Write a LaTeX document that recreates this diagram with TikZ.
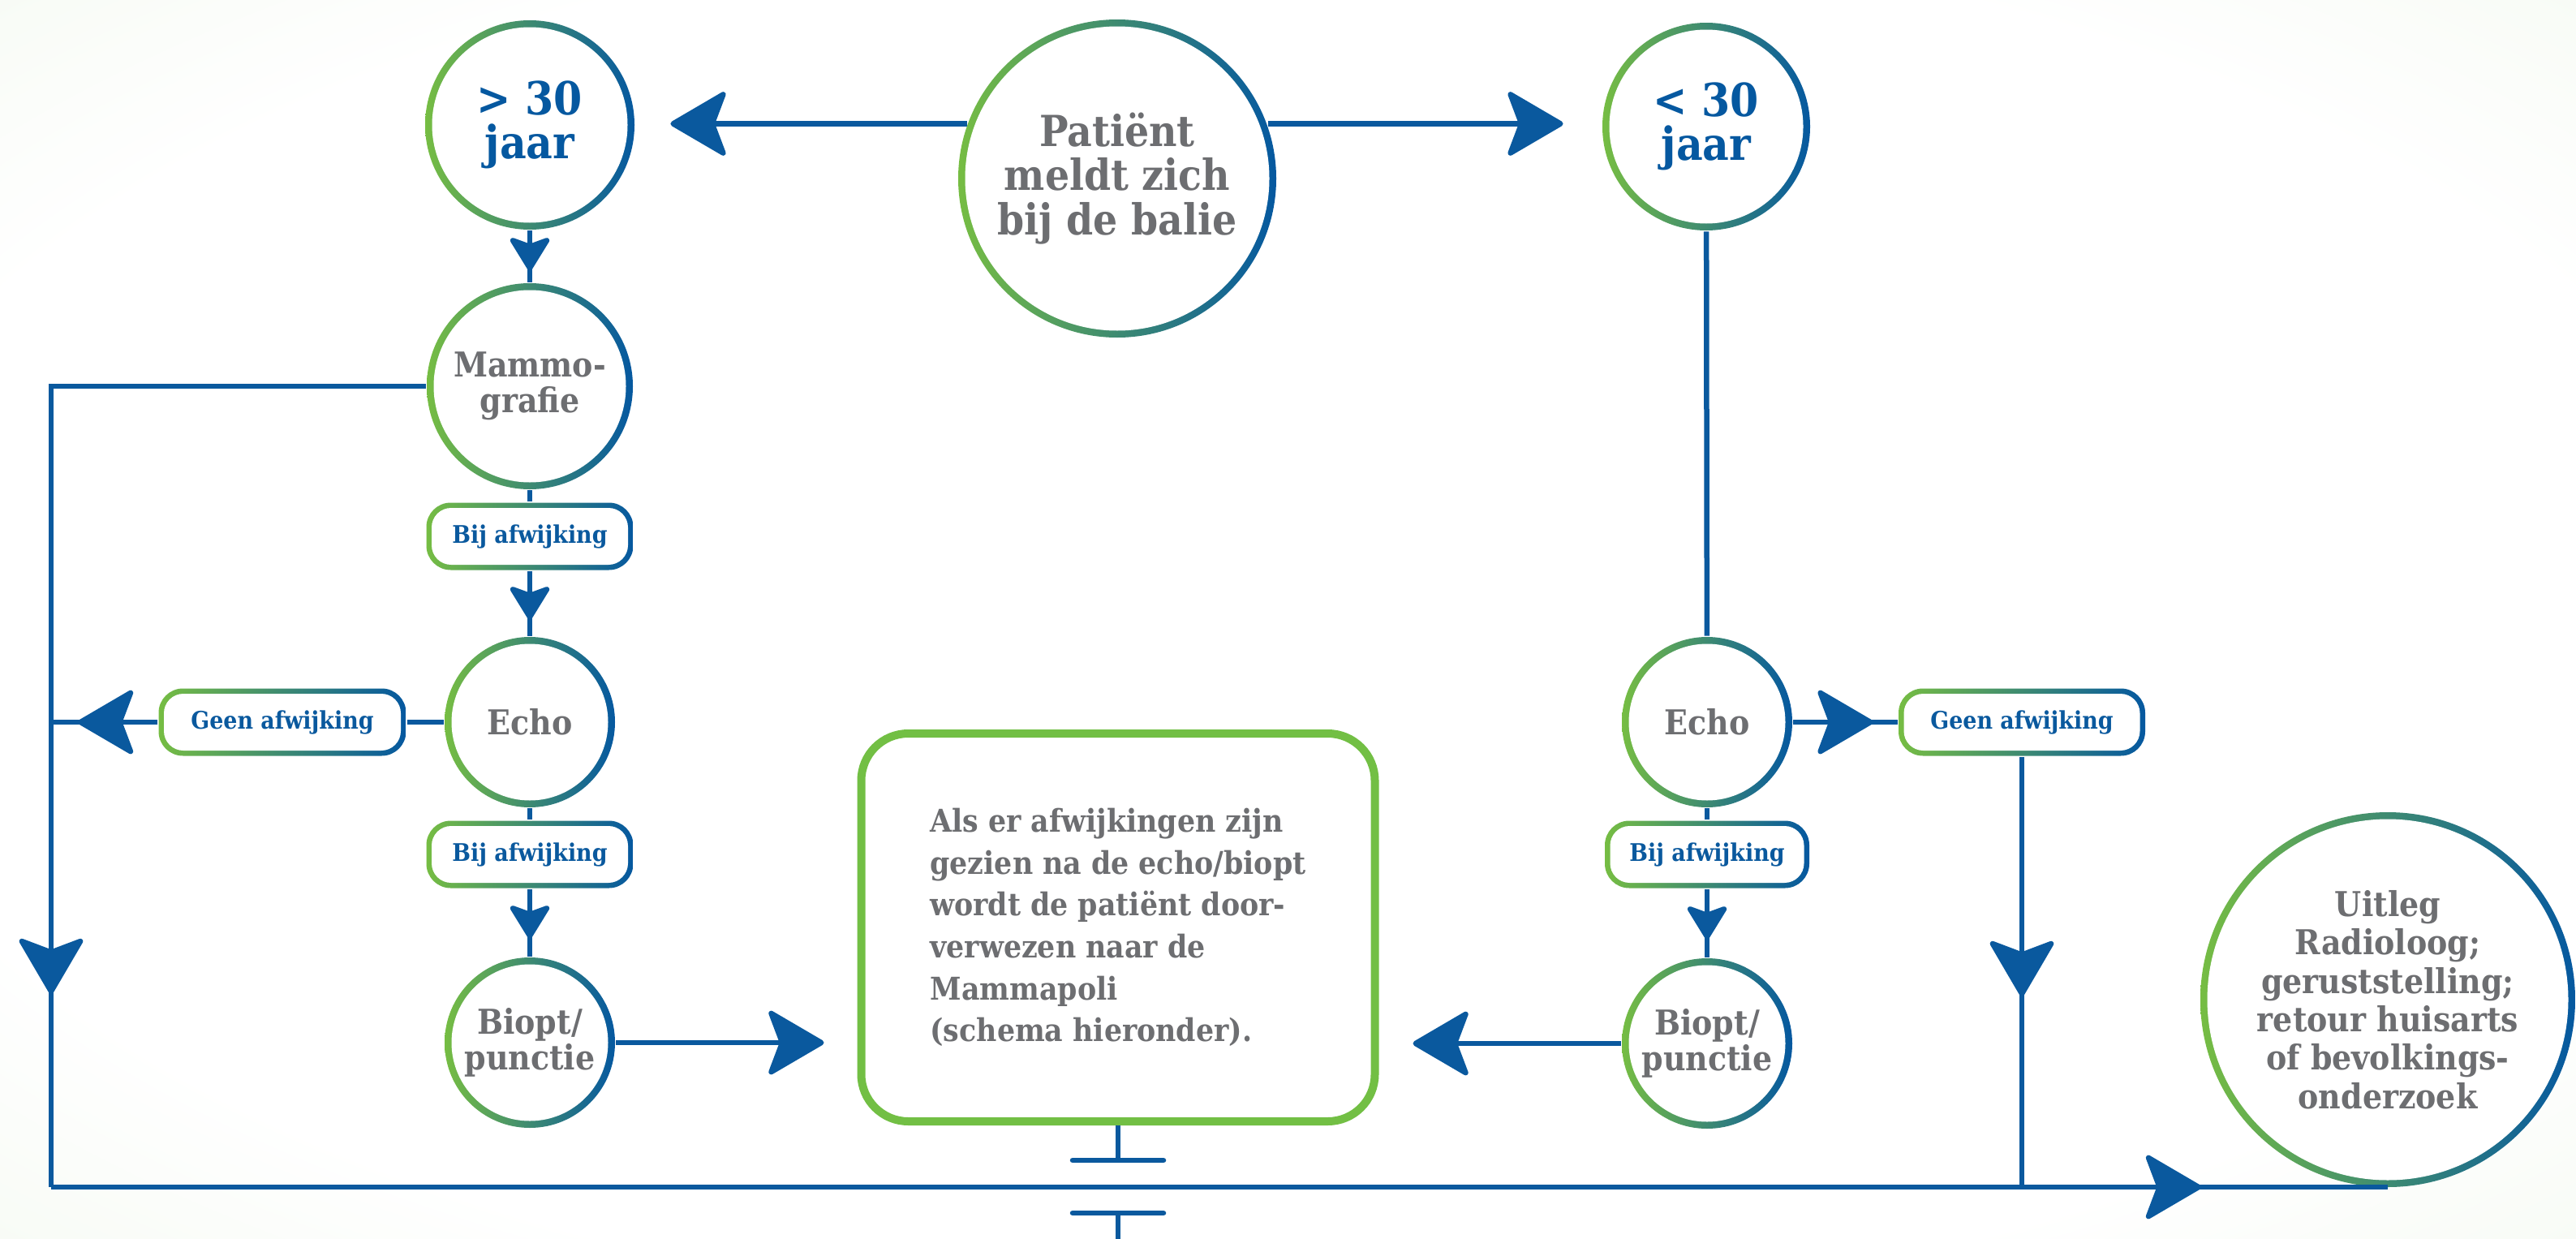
\documentclass[tikz,border=0pt]{standalone}
\usepackage{fontspec}
\setmainfont{DejaVu Serif Condensed}
\usetikzlibrary{arrows.meta,decorations.markings}

\definecolor{lijnblauw}{RGB}{10,89,158}
\definecolor{ringgroen}{RGB}{118,189,67}
\definecolor{ringblauw}{RGB}{5,88,160}
\definecolor{kadergroen}{RGB}{114,191,68}
\definecolor{tekstgrijs}{RGB}{109,110,113}
\definecolor{achtergroen}{RGB}{234,244,228}
\pgfdeclareradialshading{achtergrond}{\pgfpoint{0bp}{0bp}}{color(0bp)=(white); color(28bp)=(white); color(50bp)=(achtergroen); color(70bp)=(achtergroen)}

\tikzset{
    groot/.tip={Stealth[length=0.74cm, width=0.86cm, inset=0.16cm, round]},
    klein/.tip={Stealth[length=0.46cm, width=0.56cm, inset=0.1cm, round]},
}

\begin{document}
\begin{tikzpicture}[thick,
        lijn/.style={draw=lijnblauw, line width=0.065cm},
        cirkel/.style={circle, minimum size=#1, inner sep=0pt, align=center,
            left color=ringgroen, right color=ringblauw, text=tekstgrijs,
            path picture={\fill[white] (path picture bounding box.center) circle[radius={#1/2-0.085cm}];}},
        uitslag/.style={rectangle, rounded corners=0.3cm, minimum width=#1, minimum height=0.83cm, inner sep=0pt,
            left color=ringgroen, right color=ringblauw, text=lijnblauw,
            font=\bfseries\fontsize{8.5}{9}\selectfont,
            path picture={\fill[white, rounded corners=0.24cm] ([shift={(0.065cm,0.065cm)}]path picture bounding box.south west) rectangle ([shift={(-0.065cm,-0.065cm)}]path picture bounding box.north east);}},
        leeftijd/.style={text=ringblauw, font=\bfseries\fontsize{16}{15.4}\selectfont},
        pijlmidden/.style 2 args={postaction={decorate, decoration={markings, mark=at position #2 with {\arrow[lijnblauw]{#1}}}}},
    ]
        \shade[shading=achtergrond] (0,0) rectangle (31.75,-15.27);
        \useasboundingbox (0,0) rectangle (31.75,-15.27);

        \node[cirkel=3.92cm, font=\bfseries\fontsize{15}{15.4}\selectfont] (patient) at (13.77,-2.20) {Patiënt\\meldt zich\\bij de balie};
        \node[cirkel=2.58cm, leeftijd] (boven) at (6.53,-1.54) {> 30\\jaar};
        \node[cirkel=2.56cm, leeftijd] (onder) at (21.03,-1.56) {< 30\\jaar};

        \node[cirkel=2.54cm, font=\bfseries\fontsize{12}{12.5}\selectfont] (mammo) at (6.53,-4.76) {Mammo-\\grafie};
        \node[uitslag=2.55cm] (bij1) at (6.53,-6.61) {Bij afwijking};
        \node[cirkel=2.10cm, font=\bfseries\fontsize{12}{12.5}\selectfont] (echoL) at (6.53,-8.90) {Echo};
        \node[uitslag=3.05cm] (geenL) at (3.48,-8.90) {Geen afwijking};
        \node[uitslag=2.55cm] (bij2) at (6.53,-10.53) {Bij afwijking};
        \node[cirkel=2.10cm, font=\bfseries\fontsize{12}{12.5}\selectfont] (biopL) at (6.53,-12.85) {Biopt/\\punctie};

        \node[cirkel=2.10cm, font=\bfseries\fontsize{12}{12.5}\selectfont] (echoR) at (21.04,-8.90) {Echo};
        \node[uitslag=3.04cm] (geenR) at (24.92,-8.90) {Geen afwijking};
        \node[uitslag=2.52cm] (bij3) at (21.04,-10.53) {Bij afwijking};
        \node[cirkel=2.10cm, font=\bfseries\fontsize{12}{12.5}\selectfont] (biopR) at (21.04,-12.86) {Biopt/\\punctie};

        \node[draw=kadergroen, line width=0.1cm, rounded corners=0.58cm, fill=white, minimum width=6.33cm, minimum height=4.78cm,
            align=left, text=tekstgrijs, font=\bfseries\fontsize{11}{14.7}\selectfont] (mpoli) at (13.78,-11.43)
            {Als er afwijkingen zijn\\gezien na de echo/biopt\\wordt de patiënt door-\\verwezen naar de\\Mammapoli\\(schema hieronder).};

        \node[cirkel=4.62cm, font=\bfseries\fontsize{12}{13.5}\selectfont] (uitleg) at (29.43,-12.32)
            {Uitleg\\Radioloog;\\geruststelling;\\retour huisarts\\of bevolkings-\\onderzoek};

        \coordinate (lb) at (0.63,-14.63);

        \draw[lijn, -groot, shorten >=0.43cm] (patient.160) -- (patient.160 -| boven.east);
        \draw[lijn, -groot, shorten >=0.47cm] (patient.20) -- (patient.20 -| onder.west);

        \draw[lijn, pijlmidden={klein}{-0.14cm}] (boven) -- (mammo);
        \draw[lijn] (mammo) -- (bij1);
        \draw[lijn, pijlmidden={klein}{-0.2cm}] (bij1) -- (echoL);
        \draw[lijn] (echoL) -- (bij2);
        \draw[lijn, pijlmidden={klein}{-0.22cm}] (bij2) -- (biopL);
        \draw[lijn] (echoL) -- (geenL);
        \draw[lijn, pijlmidden={groot}{-0.33cm}] (geenL) -- (geenL -| lb);
        \draw[lijn, pijlmidden={groot}{-2.38cm}] (mammo.west) -| (lb);
        \draw[lijn, -groot, shorten >=0.41cm] (biopL) -- (biopL -| mpoli.west);

        \draw[lijn] (onder) -- (echoR);
        \draw[lijn, pijlmidden={groot}{-0.3cm}] (echoR) -- (geenR);
        \draw[lijn] (echoR) -- (bij3);
        \draw[lijn, pijlmidden={klein}{-0.22cm}] (bij3) -- (biopR);
        \draw[lijn, -groot, shorten >=0.42cm] (biopR) -- (biopR -| mpoli.east);
        \draw[lijn, pijlmidden={groot}{-2.35cm}] (geenR) -- (geenR |- lb);

        \draw[lijn, pijlmidden={groot}{-2.3cm}] (lb) -- (lb -| uitleg.south);

        \draw[lijn] (mpoli.south) -- ++(0,-0.43) coordinate (stopA);
        \draw[lijn, line cap=round] ([xshift=-0.56cm]stopA) -- ([xshift=0.56cm]stopA);
        \coordinate (stopB) at (mpoli.south |- 0,-14.95);
        \draw[lijn, line cap=round] ([xshift=-0.56cm]stopB) -- ([xshift=0.56cm]stopB);
        \draw[lijn] (stopB) -- ++(0,-0.5);
\end{tikzpicture}
\end{document}
